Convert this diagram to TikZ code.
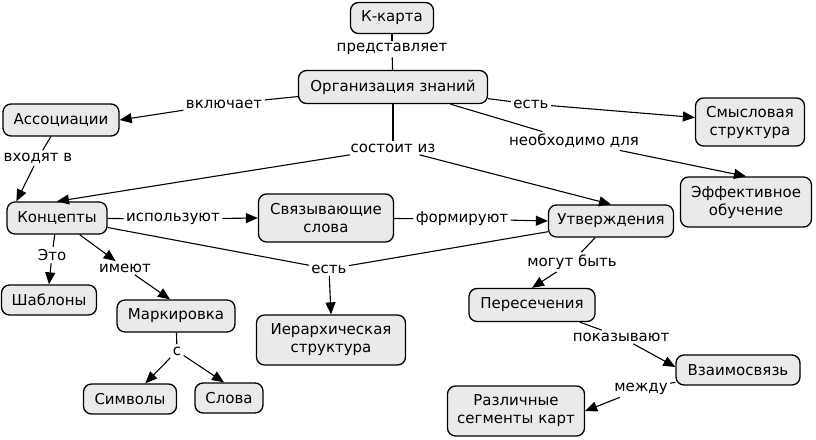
\documentclass[tikz,border=0pt]{standalone}
\usepackage{fontspec}
\setmainfont{DejaVu Sans}
\usepackage{xcolor}
\usetikzlibrary{arrows.meta}
\definecolor{boxgray}{RGB}{234,234,234}
\tikzset{
  concept/.style={draw,fill=boxgray,rounded corners=8pt,line width=1.3pt,align=center,inner sep=0pt,font=\fontsize{15}{18}\selectfont},
  linkword/.style={inner sep=2pt,font=\fontsize{15}{18}\selectfont},
  arr/.style={-{Triangle[length=12pt,width=10pt]}},
}
\begin{document}
\begin{tikzpicture}[x=1pt,y=-1pt,line width=1.1pt]
\useasboundingbox (0,0) rectangle (816,439);

%concepts
\node[concept,minimum width=83pt,minimum height=31pt] (kmap) at (392,18) {К-карта};
\node[concept,minimum width=189pt,minimum height=33pt] (org) at (393,87) {Организация знаний};
\node[concept,minimum width=116pt,minimum height=32pt] (assoc) at (61,120) {Ассоциации};
\node[concept,minimum width=109pt,minimum height=48pt] (smysl) at (750,122) {Смысловая\\структура};
\node[concept,minimum width=131pt,minimum height=50pt] (effekt) at (746,202) {Эффективное\\обучение};
\node[concept,minimum width=100pt,minimum height=32pt] (konc) at (57,218) {Концепты};
\node[concept,minimum width=135pt,minimum height=48pt] (svyaz) at (326,218) {Связывающие\\слова};
\node[concept,minimum width=125pt,minimum height=32pt] (utv) at (611,221) {Утверждения};
\node[concept,minimum width=95pt,minimum height=30pt] (shabl) at (49,300) {Шаблоны};
\node[concept,minimum width=118pt,minimum height=32pt] (mark) at (176,316) {Маркировка};
\node[concept,minimum width=126pt,minimum height=33pt] (peres) at (532,305) {Пересечения};
\node[concept,minimum width=149pt,minimum height=50pt] (ier) at (331,340) {Иерархическая\\структура};
\node[concept,minimum width=124pt,minimum height=30pt] (vzaim) at (738,370) {Взаимосвязь};
\node[concept,minimum width=93pt,minimum height=30pt] (simv) at (130,399) {Символы};
\node[concept,minimum width=68pt,minimum height=30pt] (slova) at (229,398) {Слова};
\node[concept,minimum width=137pt,minimum height=50pt] (razl) at (516,411) {Различные\\сегменты карт};

%linking words
\node[linkword] (w-pred) at (392,49) {представляет};
\node[linkword] (w-vkl) at (224,104) {включает};
\node[linkword] (w-est1) at (531,104) {есть};
\node[linkword] (w-neobh) at (574,141) {необходимо для};
\node[linkword] (w-sost) at (393,148) {состоит из};
\node[linkword] (w-vhod) at (38,158) {входят в};
\node[linkword] (w-ispol) at (173,219) {используют};
\node[linkword] (w-form) at (462,219) {формируют};
\node[linkword] (w-eto) at (52,255) {Это};
\node[linkword] (w-imeyut) at (125,268) {имеют};
\node[linkword] (w-est2) at (329,269) {есть};
\node[linkword] (w-mogut) at (572,262) {могут быть};
\node[linkword] (w-pokaz) at (621,337) {показывают};
\node[linkword] (w-s) at (177,351) {с};
\node[linkword] (w-mezhdu) at (641,389) {между};

%top
\draw (kmap) -- (w-pred);
\draw (w-pred) -- (org);
\draw (org) -- (w-vkl);
\draw[arr] (w-vkl) -- (assoc.east);
\draw (org) -- (w-est1);
\draw[arr] (w-est1) -- (smysl);
\draw (org) -- (w-neobh);
\draw[arr] (w-neobh) -- (effekt.north);
\draw (org) -- (w-sost);
\draw[arr] (w-sost) -- (konc.north);
\draw[arr] (w-sost) -- (utv.north);

%left
\draw (assoc) -- (w-vhod);
\draw[arr] (w-vhod) -- ([xshift=10pt]konc.north west);
\draw (konc) -- (w-ispol);
\draw[arr] (w-ispol) -- (svyaz.west);
\draw (svyaz) -- (w-form);
\draw[arr] (w-form) -- (utv.west);
\draw (konc) -- (w-eto);
\draw[arr] (w-eto) -- (shabl.north);
\draw[arr] (konc) -- (w-imeyut);
\draw[arr] (w-imeyut) -- ([xshift=-6pt]mark.north);
\draw (mark) -- (w-s);
\draw[arr] (w-s) -- (simv);
\draw[arr] (w-s) -- ([xshift=-5pt]slova.north);

%middle
\draw (konc) -- (w-est2);
\draw (utv) -- (w-est2);
\draw[arr] (w-est2) -- (ier.north);

%right
\draw (utv) -- (w-mogut);
\draw[arr] (w-mogut) -- (peres.north);
\draw (peres) -- (w-pokaz);
\draw[arr] (w-pokaz) -- ([yshift=3pt]vzaim.west);
\draw (vzaim) -- (w-mezhdu);
\draw[arr] (w-mezhdu) -- (razl.east);
\end{tikzpicture}
\end{document}
